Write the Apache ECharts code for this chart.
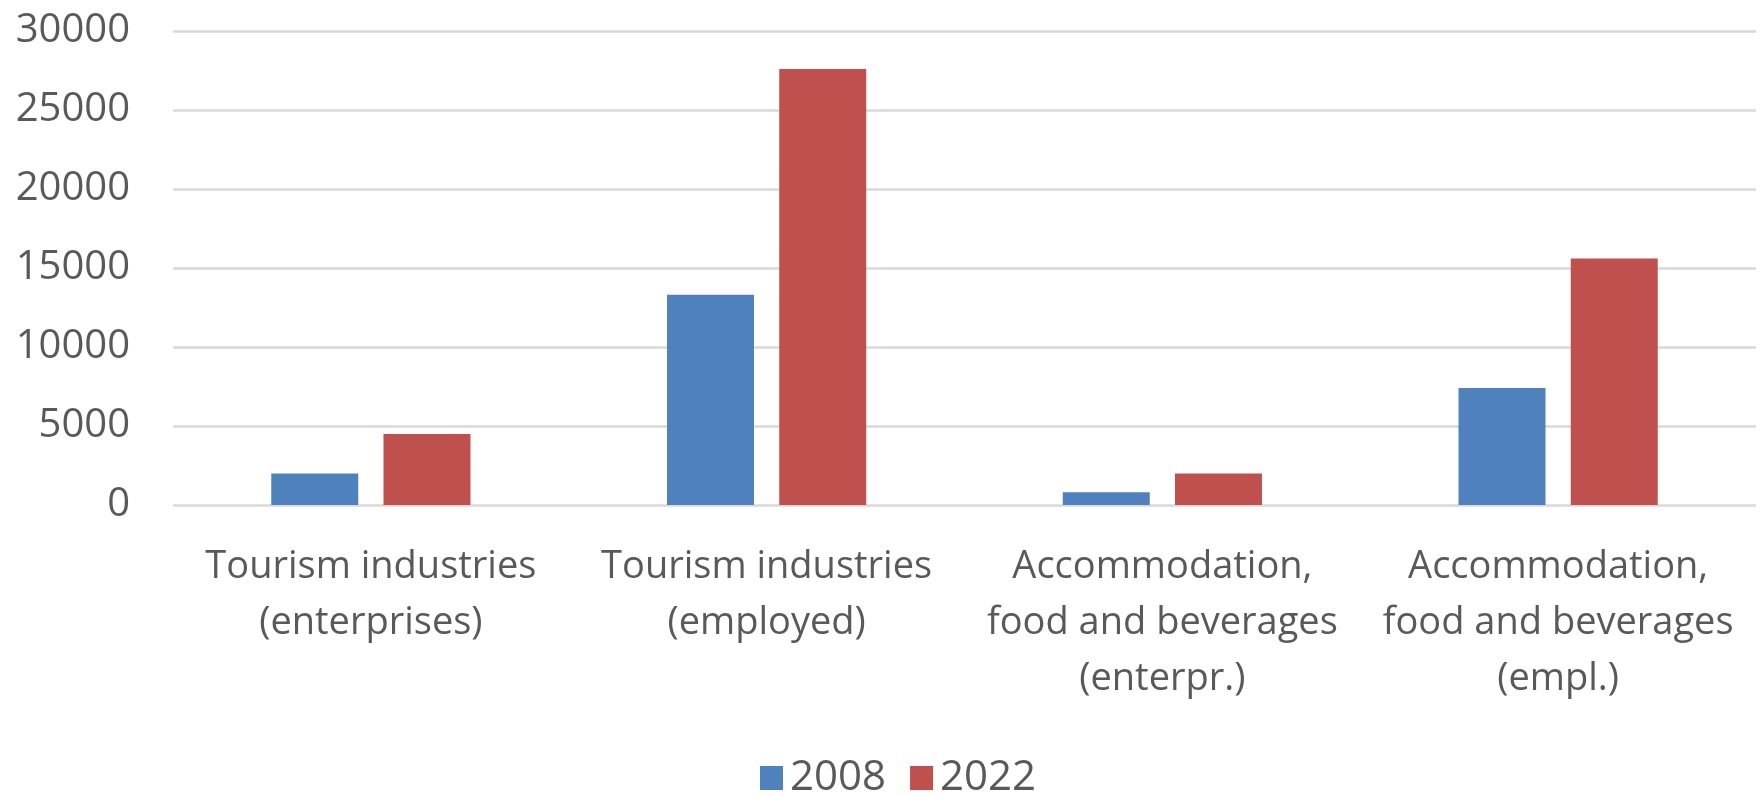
<!DOCTYPE html>
<html>
<head>
<meta charset="utf-8">
<script src="https://cdn.jsdelivr.net/npm/echarts@6/dist/echarts.min.js"></script>
<style>
html,body{margin:0;padding:0;background:#fff;}
#chart{width:1760px;height:797px;}
</style>
</head>
<body>
<div id="chart"></div>
<script>
const categories = [
  "Tourism industries\n(enterprises)",
  "Tourism industries\n(employed)",
  "Accommodation,\nfood and beverages\n(enterpr.)",
  "Accommodation,\nfood and beverages\n(empl.)"
];
const seriesNames = ["2008", "2022"];
const values2008 = [2000, 13300, 800, 7400];
const values2022 = [4500, 27600, 2000, 15600];
const yTicks = { min: 0, max: 30000, interval: 5000 };

const FONT = "'Open Sans', sans-serif";
const chart = echarts.init(document.getElementById('chart'), null, {renderer: 'canvas'});
chart.setOption({
  animation: false,
  backgroundColor: '#ffffff',
  color: ['#4F81BD', '#C0504D'],
  grid: { left: 173, right: 4, top: 31, bottom: 292, containLabel: false },
  legend: {
    data: seriesNames,
    left: 760, top: 757, padding: 0,
    itemWidth: 23, itemHeight: 24, itemGap: 24,
    icon: 'rect',
    textStyle: { fontFamily: FONT, fontSize: 42, color: '#595959', padding: [0,0,0,2] }
  },
  xAxis: {
    type: 'category',
    data: categories,
    axisLine: { show: false },
    axisTick: { show: false },
    axisLabel: {
      interval: 0,
      margin: 34,
      fontFamily: FONT, fontSize: 38, color: '#595959', lineHeight: 56
    }
  },
  yAxis: {
    type: 'value',
    min: yTicks.min, max: yTicks.max, interval: yTicks.interval,
    axisLine: { show: false },
    axisTick: { show: false },
    splitLine: { lineStyle: { color: '#D9D9D9', width: 2.5 } },
    axisLabel: {
      margin: 43, fontFamily: FONT, fontSize: 40, color: '#595959',
      formatter: function (v) { return String(v); }
    }
  },
  series: [
    { name: seriesNames[0], type: 'bar', data: values2008, barWidth: 87, barGap: '29%' },
    { name: seriesNames[1], type: 'bar', data: values2022, barWidth: 87, barGap: '29%' }
  ]
});
</script>
</body>
</html>
